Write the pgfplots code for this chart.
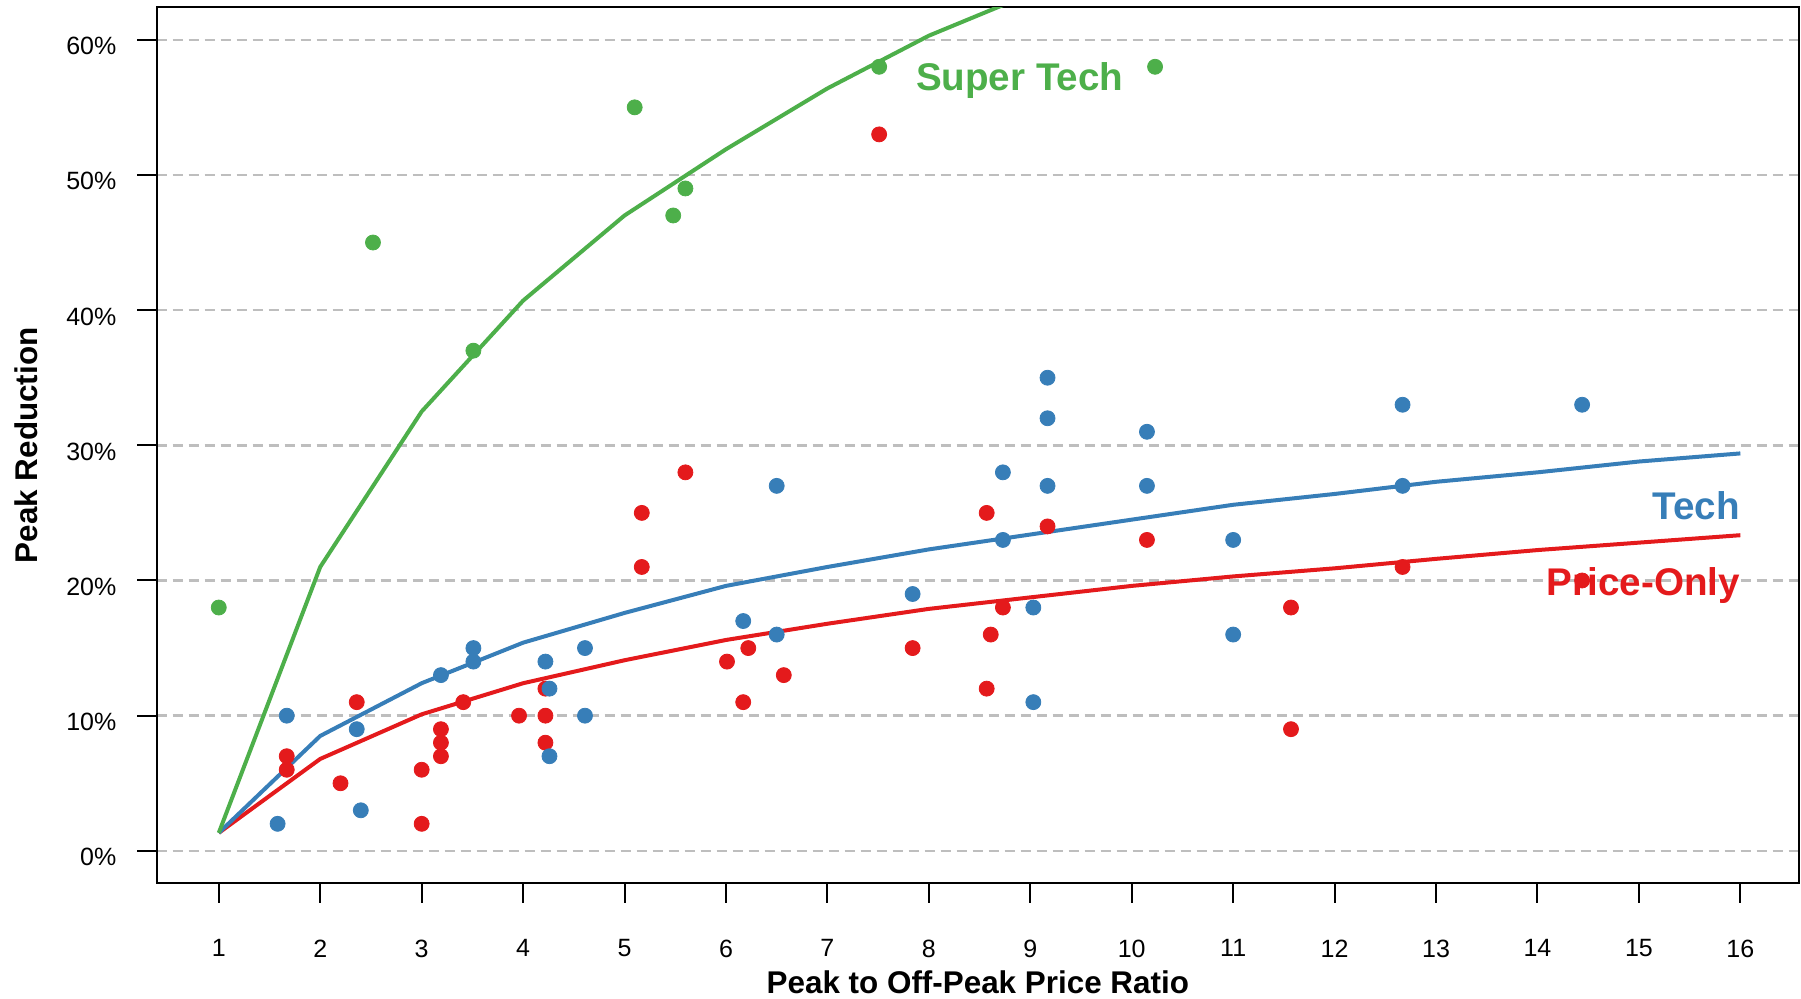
\documentclass[border=0pt]{standalone}
\usepackage{fontspec}
\setmainfont{Liberation Sans}
\usepackage{pgfplots}
\pgfplotsset{compat=1.18}
\definecolor{cred}{HTML}{E41A1C}
\definecolor{cblue}{HTML}{377EB8}
\definecolor{cgreen}{HTML}{4DAF4A}
\definecolor{cgrid}{RGB}{190,190,190}

\pgfplotstableread{
x y
1.67 7
1.67 6
2.20 5
2.36 11
3.00 6
3.00 2
3.19 9
3.19 8
3.19 7
3.41 11
3.96 10
4.22 12
4.22 10
4.22 8
5.17 25
5.17 21
5.60 28
6.01 14
6.17 11
6.22 15
6.57 13
7.51 53
7.84 15
8.57 25
8.57 12
8.61 16
8.73 18
9.17 24
10.15 23
11.57 18
11.57 9
12.67 21
14.44 20
}\redpts

\pgfplotstableread{
x y
1.58 2
1.67 10
2.36 9
2.40 3
3.19 13
3.51 15
3.51 14
4.22 14
4.26 12
4.26 7
4.61 15
4.61 10
6.17 17
6.50 27
6.50 16
7.84 19
8.73 28
8.73 23
9.03 18
9.03 11
9.17 35
9.17 32
9.17 27
10.15 31
10.15 27
11.00 23
11.00 16
12.67 33
12.67 27
14.44 33
}\bluepts

\pgfplotstableread{
x y
1.00 18
2.52 45
3.51 37
5.10 55
5.48 47
5.60 49
7.51 58
10.23 58
}\greenpts

\pgfplotstableread{
x y
1 1.33
2 6.8
3 10.1
4 12.4
5 14.1
6 15.6
7 16.8
8 17.9
9 18.75
10 19.6
11 20.3
12 20.9
13 21.6
14 22.25
15 22.8
16 23.35
}\redline

\pgfplotstableread{
x y
1 1.33
2 8.5
3 12.4
4 15.4
5 17.6
6 19.6
7 21.0
8 22.3
9 23.4
10 24.5
11 25.6
12 26.4
13 27.3
14 28.0
15 28.8
16 29.4
}\blueline

\pgfplotstableread{
x y
1 1.33
2 21.0
3 32.5
4 40.7
5 47.0
6 51.9
7 56.4
8 60.3
9 63.4
}\greenline

\begin{document}
\begin{tikzpicture}[x=1pt,y=1pt]
\begin{axis}[
  at={(78.35pt,57.35pt)}, anchor=south west,
  width=821.15pt, height=438pt, scale only axis,
  xmin=0.388, xmax=16.578, ymin=-2.4, ymax=62.4,
  xtick={1,...,16}, ytick={0,10,...,60},
  tick align=outside, major tick length=9.8pt,
  tick pos=left,
  axis line style={line width=1.1pt},
  every tick/.style={black, line width=1pt},
  ymajorgrids,
  major grid style={cgrid, line width=1.2pt, dash pattern=on 5pt off 3pt},
  /pgf/number format/assume math mode=true,
  ticklabel style={font=\fontsize{12.5}{14}\selectfont, inner sep=0pt},
  xticklabel style={anchor=north, yshift=-18.2pt},
  yticklabel style={anchor=east, xshift=-10.2pt, yshift=-3.2pt},
  yticklabel={\pgfmathprintnumber{\tick}\%},
  xlabel={Peak to Off-Peak Price Ratio},
  ylabel={Peak Reduction},
  label style={font=\fontsize{15.7}{18}\selectfont\bfseries, inner sep=0pt},
  xlabel style={at={(axis description cs:0.5,-0.12523)}, anchor=base},
  ylabel style={at={(axis description cs:-0.07258,0.5)}, anchor=base, rotate=0},
]
\addplot[only marks, cred, mark=*, mark size=3.75pt, mark options={draw=none, fill=cred}] table {\redpts};
\addplot[only marks, cblue, mark=*, mark size=3.75pt, mark options={draw=none, fill=cblue}] table {\bluepts};
\addplot[only marks, cgreen, mark=*, mark size=3.75pt, mark options={draw=none, fill=cgreen}] table {\greenpts};
\addplot[cred, line width=2pt, no marks, line join=round] table {\redline};
\addplot[cblue, line width=2pt, no marks, line join=round] table {\blueline};
\addplot[cgreen, line width=2pt, no marks, line join=round] table {\greenline};
\node[anchor=base west, inner sep=0pt, text=cgreen, font=\fontsize{19.3}{22}\selectfont\bfseries] at (axis cs:7.87,56.25) {Super Tech};
\node[anchor=base east, inner sep=0pt, text=cblue, font=\fontsize{19.3}{22}\selectfont\bfseries] at (axis cs:16,24.48) {Tech};
\node[anchor=base east, inner sep=0pt, text=cred, font=\fontsize{19.3}{22}\selectfont\bfseries] at (axis cs:16,18.87) {Price-Only};
\end{axis}
\pgfresetboundingbox
\path[use as bounding box] (0,0) rectangle (900.5,499);
\end{tikzpicture}
\end{document}
